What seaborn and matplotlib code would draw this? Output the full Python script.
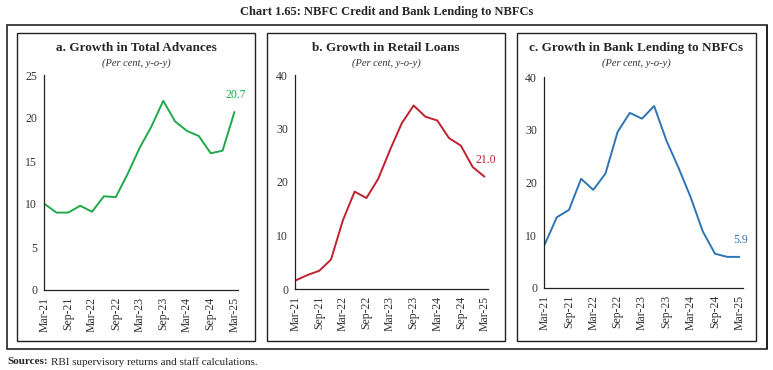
import matplotlib
matplotlib.use("Agg")
import matplotlib.pyplot as plt
import seaborn as sns
import pandas as pd
from matplotlib.patches import Rectangle

# quarterly data, Mar-21 .. Mar-25
quarters = ["Mar-21", "Jun-21", "Sep-21", "Dec-21", "Mar-22", "Jun-22", "Sep-22", "Dec-22",
            "Mar-23", "Jun-23", "Sep-23", "Dec-23", "Mar-24", "Jun-24", "Sep-24", "Dec-24", "Mar-25"]
total_advances = [10.0, 9.0, 9.0, 9.8, 9.1, 10.9, 10.8, 13.5, 16.5, 19.0, 22.0, 19.6, 18.5, 17.9, 15.9, 16.2, 20.7]
retail_loans = [1.6, 2.6, 3.4, 5.5, 12.8, 18.2, 17.0, 20.6, 26.0, 31.0, 34.3, 32.2, 31.5, 28.2, 26.8, 22.8, 21.0]
bank_lending = [8.2, 13.4, 14.8, 20.7, 18.6, 21.7, 29.6, 33.2, 32.1, 34.5, 28.0, 22.8, 17.2, 10.7, 6.5, 5.9, 5.9]
tick_labels = quarters[::2]

panels = [
    ("a. Growth in Total Advances", total_advances, "#21a84a", 25, 5, "20.7"),
    ("b. Growth in Retail Loans", retail_loans, "#c0212f", 40, 10, "21.0"),
    ("c. Growth in Bank Lending to NBFCs", bank_lending, "#2e75b6", 40, 10, "5.9"),
]

sns.set_style("white")
plt.rcParams["font.family"] = ["Liberation Serif", "DejaVu Serif"]

W, H = 773, 370
fig = plt.figure(figsize=(W / 100, H / 100), dpi=100)

# axes boxes in pixel coords: (left, right, top, bottom)
ax_px = [(44, 238, 75, 290), (295, 488, 75, 289), (544, 743, 77, 288)]
box_px = [(17, 255), (267, 505), (517, 756)]

fig.suptitle("Chart 1.65: NBFC Credit and Bank Lending to NBFCs", y=1 - 12 / H,
             fontsize=9, fontweight="bold", va="center")

# outer frame (heavier right edge as in the source)
fig.add_artist(Rectangle((7 / W, 1 - 349 / H), 760 / W, 324 / H, transform=fig.transFigure,
                         fill=False, lw=1.2, ec="#222222"))
fig.add_artist(Rectangle((766 / W, 1 - 349 / H), 1.5 / W, 324 / H, transform=fig.transFigure,
                         fill=True, lw=0, fc="#222222"))

for i, (title, vals, color, ymax, ystep, lab) in enumerate(panels):
    l, r, t, b = ax_px[i]
    ax = fig.add_axes([l / W, 1 - b / H, (r - l) / W, (b - t) / H])
    bl, br = box_px[i]
    fig.add_artist(Rectangle((bl / W, 1 - 341 / H), (br - bl) / W, 308 / H,
                             transform=fig.transFigure, fill=False, lw=1.0, ec="#222222"))

    df = pd.DataFrame({"q": range(len(quarters)), "v": vals})
    sns.lineplot(data=df, x="q", y="v", color=color, lw=1.4, ax=ax)

    ax.set_xlim(-0.05, 16.3)
    ax.set_ylim(0, ymax)
    ax.set_yticks(range(0, ymax + 1, ystep))
    ax.set_xticks(range(0, len(quarters), 2))
    ax.set_xticklabels(tick_labels, rotation=90, fontsize=8.5)
    for tl in ax.get_yticklabels():
        tl.set_fontsize(8.5)
    ax.set_xlabel("")
    ax.set_ylabel("")
    sns.despine(ax=ax)
    for s in ("left", "bottom"):
        ax.spines[s].set_color("#222222")
        ax.spines[s].set_linewidth(0.9)
    ax.tick_params(axis="both", direction="out", length=3, width=0.9, color="#222222",
                   labelcolor="#333333", pad=2)

    cx = (bl + br) / 2 / W
    fig.text(cx, 1 - 48 / H, title, ha="center", va="center", fontsize=9.5, fontweight="bold")
    fig.text(cx, 1 - 63 / H, "(Per cent, y-o-y)", ha="center", va="center", fontsize=7.5,
             style="italic", color="#333333")

    last = len(vals) - 1
    ax.annotate(lab, (last, vals[last]), xytext=(1, 8), textcoords="offset points",
                ha="center", va="bottom", color=color, fontsize=8.5)

fig.text(7 / W, 1 - 362 / H, "Sources:", fontsize=8, fontweight="bold", va="center")
fig.text(51 / W, 1 - 362 / H, "RBI supervisory returns and staff calculations.", fontsize=8,
         va="center")

fig.savefig("out.png", dpi=100)
